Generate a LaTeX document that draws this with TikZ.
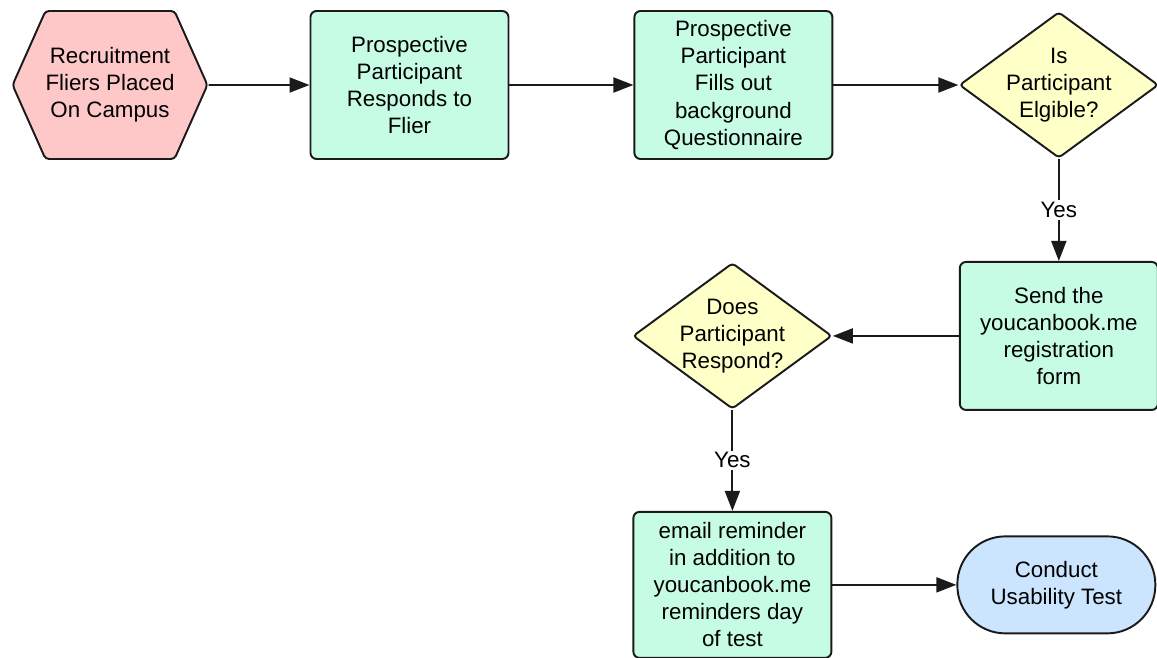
\documentclass[tikz,border=0pt]{standalone}
\usepackage{fontspec}
\setmainfont{Liberation Sans}
\usepackage{xcolor}
\definecolor{cLine}{HTML}{1A1A1A}
\definecolor{cStart}{HTML}{FFC8C8}
\definecolor{cStep}{HTML}{C7FCE4}
\definecolor{cAsk}{HTML}{FFFFC8}
\definecolor{cEnd}{HTML}{CCE5FF}
\usetikzlibrary{positioning,arrows.meta,shapes.geometric,shapes.symbols}
\tikzset{
  node-box/.style={draw=cLine,line width=1.1pt,rounded corners=3.5pt,fill=cStep,
    minimum height=2.96cm,minimum width=3.96cm,align=center},
  node-start/.style={signal,signal to=west and east,signal pointer angle=132,
    draw=cLine,line width=1.1pt,fill=cStart,rounded corners=2pt,inner xsep=0pt,
    minimum height=2.96cm,align=center},
  node-ask/.style={diamond,draw=cLine,line width=1.1pt,fill=cAsk,rounded corners=2pt,
    shape aspect=1.36,inner xsep=-8pt,inner ysep=-6pt,
    minimum height=2.92cm,minimum width=3.98cm,align=center},
  node-end/.style={draw=cLine,line width=1.1pt,fill=cEnd,rounded corners=0.96cm,
    minimum height=1.94cm,minimum width=3.96cm,align=center},
  arrow/.style={-{Triangle[length=4mm,width=3mm]},line width=1.1pt,draw=cLine},
  yes-label/.style={fill=white,inner sep=1pt,midway},
}

\begin{document}
\begin{tikzpicture}[every node/.append style={font=\fontsize{12.7}{15.4}\selectfont}]
  \useasboundingbox (0,0) rectangle (23.14,-13.16);
  \node[node-start] (fliers) at (2.2,-1.7) {Recruitment\\Fliers Placed\\On Campus};
  \node[node-box,right=2.02cm of fliers] (respond) {Prospective\\Participant\\Responds to\\Flier};
  \node[node-box,right=2.48cm of respond] (fill) {Prospective\\Participant\\Fills out\\background\\Questionnaire};
  \node[node-ask,right=2.5cm of fill] (elig) {Is\\Participant\\Elgible?};
  \node[node-box,below=2.04cm of elig] (send) {Send the\\youcanbook.me\\registration\\form};
  \node[node-ask,left=2.52cm of send] (resp) {Does\\Participant\\Respond?};
  \node[node-box,below=2.02cm of resp,minimum height=2.92cm] (remind) {email reminder\\in addition to\\youcanbook.me\\reminders day\\of test};
  \node[node-end,right=2.48cm of remind] (test) {Conduct\\Usability Test};
  \draw[arrow] (fliers) -- (respond);
  \draw[arrow] (respond) -- (fill);
  \draw[arrow] (fill) -- (elig);
  \draw[arrow] (elig) -- node[yes-label] {Yes} (send);
  \draw[arrow] (send) -- (resp);
  \draw[arrow] (resp) -- node[yes-label] {Yes} (remind);
  \draw[arrow] (remind) -- (test);
\end{tikzpicture}
\end{document}
